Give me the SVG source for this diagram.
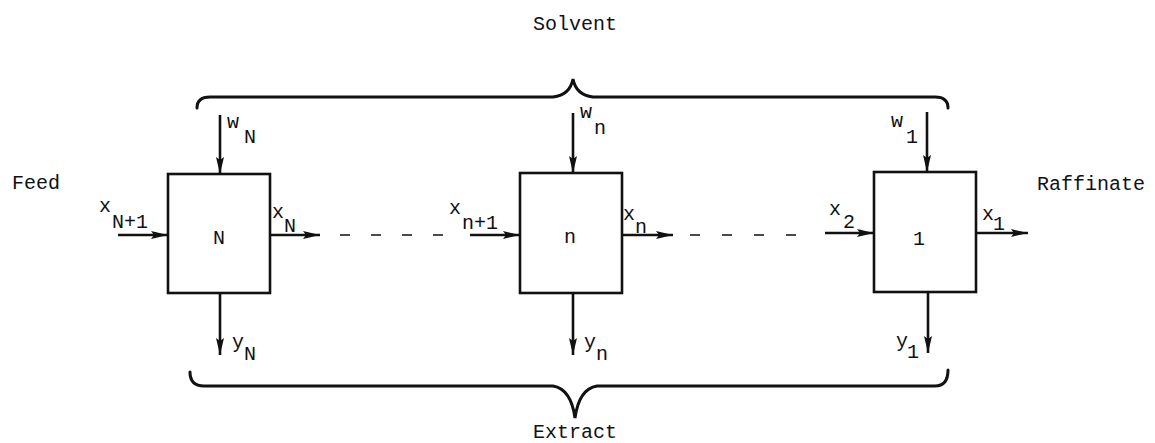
<svg xmlns="http://www.w3.org/2000/svg" width="1155" height="443" viewBox="0 0 1155 443">
<defs>
<style>
.box{fill:#fff;stroke:#111;stroke-width:2.6}
.ln{stroke:#111;stroke-width:2.6;fill:none}
.br{stroke:#111;stroke-width:3;fill:none;stroke-linecap:round}
.dash{stroke:#111;stroke-width:1.6}
text{font-family:"Liberation Mono","DejaVu Sans Mono",monospace;font-size:20px;fill:#111}
.c{text-anchor:middle}
</style>
<marker id="ah" markerUnits="userSpaceOnUse" markerWidth="18" markerHeight="10" refX="17" refY="5" orient="auto">
<path d="M0,1 L17,5 L0,9 L3,5 z" fill="#111"/>
</marker>
</defs>
<rect width="1155" height="443" fill="#fff"/>

<g id="braces">
<path class="br" d="M197,108 Q197,97 210,97 L553,97 Q570,95 573,79 Q576,95 593,97 L935,97 Q948,97 948,108"/>
<path class="br" d="M190,372 Q190,386 204,386 L553,386 Q571,389 575,418 Q579,389 597,386 L935,386 Q948,386 948,370"/>
</g>

<g id="connectors">
<line class="ln" x1="220" y1="115" x2="220" y2="174" marker-end="url(#ah)"/>
<line class="ln" x1="573" y1="113" x2="573" y2="173" marker-end="url(#ah)"/>
<line class="ln" x1="927" y1="112" x2="927" y2="172" marker-end="url(#ah)"/>
<line class="ln" x1="118" y1="235" x2="168" y2="235" marker-end="url(#ah)"/>
<line class="ln" x1="270" y1="235" x2="320" y2="235" marker-end="url(#ah)"/>
<line class="ln" x1="470" y1="235" x2="520" y2="235" marker-end="url(#ah)"/>
<line class="ln" x1="622" y1="235" x2="673" y2="235" marker-end="url(#ah)"/>
<line class="ln" x1="825" y1="233" x2="874" y2="233" marker-end="url(#ah)"/>
<line class="ln" x1="976" y1="233" x2="1028" y2="233" marker-end="url(#ah)"/>
<line class="ln" x1="220" y1="293" x2="220" y2="355" marker-end="url(#ah)"/>
<line class="ln" x1="573" y1="293" x2="573" y2="355" marker-end="url(#ah)"/>
<line class="ln" x1="928" y1="292" x2="928" y2="353" marker-end="url(#ah)"/>
<line class="dash" x1="340" y1="235" x2="450" y2="235" stroke-dasharray="10 21"/>
<line class="dash" x1="690" y1="235" x2="805" y2="235" stroke-dasharray="10 22"/>
</g>

<g id="stageN">
<rect class="box" x="168" y="174" width="102" height="119"/>
<text class="c" x="219" y="244">N</text>
</g>
<g id="stage_n">
<rect class="box" x="520" y="173" width="102" height="120"/>
<text class="c" x="570" y="243">n</text>
</g>
<g id="stage1">
<rect class="box" x="874" y="172" width="102" height="120"/>
<text class="c" x="919" y="245">1</text>
</g>

<g id="labels">
<text x="533" y="30">Solvent</text>
<text x="533" y="438">Extract</text>
<text x="12" y="189">Feed</text>
<text x="1037" y="190">Raffinate</text>
<text><tspan x="227" y="128">w</tspan><tspan x="244" y="143">N</tspan></text>
<text><tspan x="272" y="218">x</tspan><tspan x="284" y="232">N</tspan></text>
<text><tspan x="99" y="212">x</tspan><tspan x="112" y="228">N+1</tspan></text>
<text><tspan x="232" y="348">y</tspan><tspan x="244" y="360">N</tspan></text>
<text><tspan x="580" y="118">w</tspan><tspan x="594" y="134">n</tspan></text>
<text><tspan x="449" y="214">x</tspan><tspan x="462" y="229">n+1</tspan></text>
<text><tspan x="623" y="220">x</tspan><tspan x="635" y="233">n</tspan></text>
<text><tspan x="584" y="348">y</tspan><tspan x="596" y="360">n</tspan></text>
<text><tspan x="891" y="127">w</tspan><tspan x="906" y="143">1</tspan></text>
<text><tspan x="829" y="215">x</tspan><tspan x="843" y="228">2</tspan></text>
<text><tspan x="982" y="220">x</tspan><tspan x="993" y="230">1</tspan></text>
<text><tspan x="896" y="347">y</tspan><tspan x="907" y="358">1</tspan></text>
</g>
</svg>
